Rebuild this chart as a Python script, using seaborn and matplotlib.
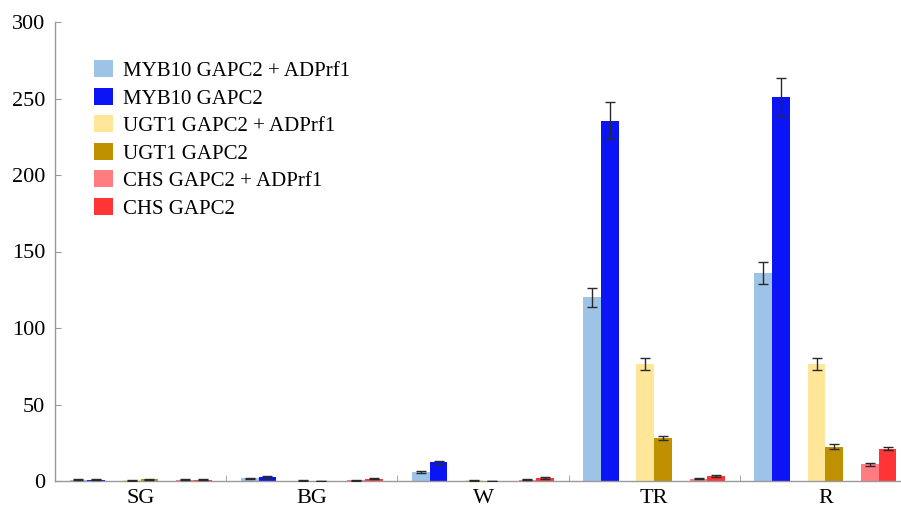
import matplotlib
matplotlib.use("Agg")
import matplotlib.pyplot as plt
import seaborn as sns
import pandas as pd
import numpy as np
from matplotlib.patches import Patch

stages = ["SG", "BG", "W", "TR", "R"]
series = ["MYB10 GAPC2 + ADPrf1", "MYB10 GAPC2", "UGT1 GAPC2 + ADPrf1",
          "UGT1 GAPC2", "CHS GAPC2 + ADPrf1", "CHS GAPC2"]
colors = ["#9DC3E6", "#0A14F5", "#FFE699", "#BF9000", "#FF7C80", "#FF3535"]

myb10_adp = [0.8, 1.8, 6.0, 120.0, 136.0]
myb10 = [0.8, 2.6, 12.3, 235.5, 251.0]
ugt1_adp = [0.4, 0.3, 0.6, 76.5, 76.5]
ugt1 = [1.0, 0.1, 0.1, 28.0, 22.5]
chs_adp = [0.7, 0.5, 0.8, 1.5, 11.0]
chs = [0.8, 1.4, 2.0, 3.2, 21.2]

myb10_adp_err = [0.3, 0.4, 0.6, 6.0, 7.0]
myb10_err = [0.3, 0.4, 0.9, 12.0, 12.5]
ugt1_adp_err = [0.2, 0.2, 0.3, 4.0, 4.0]
ugt1_err = [0.3, 0.1, 0.1, 1.5, 1.5]
chs_adp_err = [0.3, 0.2, 0.3, 0.4, 0.9]
chs_err = [0.3, 0.4, 0.4, 0.6, 1.2]

values = [myb10_adp, myb10, ugt1_adp, ugt1, chs_adp, chs]
errors = [myb10_adp_err, myb10_err, ugt1_adp_err, ugt1_err, chs_adp_err, chs_err]

gap1, gap2 = " ", "  "
hue_order = [series[0], series[1], gap1, series[2], series[3], gap2, series[4], series[5]]
palette = {series[0]: colors[0], series[1]: colors[1], gap1: "white",
           series[2]: colors[2], series[3]: colors[3], gap2: "white",
           series[4]: colors[4], series[5]: colors[5]}

rows = []
for s, vals in zip(series, values):
    for st, v in zip(stages, vals):
        rows.append({"stage": st, "series": s, "value": v})
for g in (gap1, gap2):
    for st in stages:
        rows.append({"stage": st, "series": g, "value": 0.0})
df = pd.DataFrame(rows)

err_map = {(s, st): e for s, errs in zip(series, errors) for st, e in zip(stages, errs)}

plt.rcParams["font.family"] = ["Liberation Serif", "DejaVu Serif"]

fig = plt.figure(figsize=(9.01, 5.07), dpi=100)
ax = fig.add_axes([55 / 901, 26 / 507, 856 / 901, 459 / 507])

sns.barplot(data=df, x="stage", y="value", hue="series", order=stages,
            hue_order=hue_order, palette=palette, width=0.83, errorbar=None,
            saturation=1, legend=False, ax=ax, linewidth=0)

for lab, cont in zip(hue_order, ax.containers):
    if lab not in series:
        continue
    for st, bar in zip(stages, cont):
        x = bar.get_x() + bar.get_width() / 2
        h = bar.get_height()
        ax.errorbar(x, h, yerr=err_map[(lab, st)], color="#2A2A2A", elinewidth=1.0,
                    capsize=3.5, capthick=1.0, zorder=5)

ax.set_ylim(0, 300)
ax.set_xlim(-0.5, 4.5)
ax.set_yticks(np.arange(0, 301, 50))
ax.set_xlabel("")
ax.set_ylabel("")
for sp in ["top", "right"]:
    ax.spines[sp].set_visible(False)
for sp in ["left", "bottom"]:
    ax.spines[sp].set_color("#9A9A9A")
    ax.spines[sp].set_linewidth(1.0)
ax.tick_params(axis="y", direction="in", length=4, color="#9A9A9A",
               labelsize=16, pad=7)
ax.tick_params(axis="x", which="major", length=0, labelsize=16, pad=6)
ax.set_xticks([0.5, 1.5, 2.5, 3.5], minor=True)
ax.tick_params(axis="x", which="minor", direction="in", length=4, color="#9A9A9A")

handles = [Patch(facecolor=c, edgecolor="none") for c in colors]
ax.legend(handles, series, loc="upper left", bbox_to_anchor=(0.036, 0.935),
          frameon=False, fontsize=15, handlelength=0.9, handleheight=0.9,
          handletextpad=0.5, labelspacing=0.32, borderaxespad=0)

fig.savefig("out.png", dpi=100)
